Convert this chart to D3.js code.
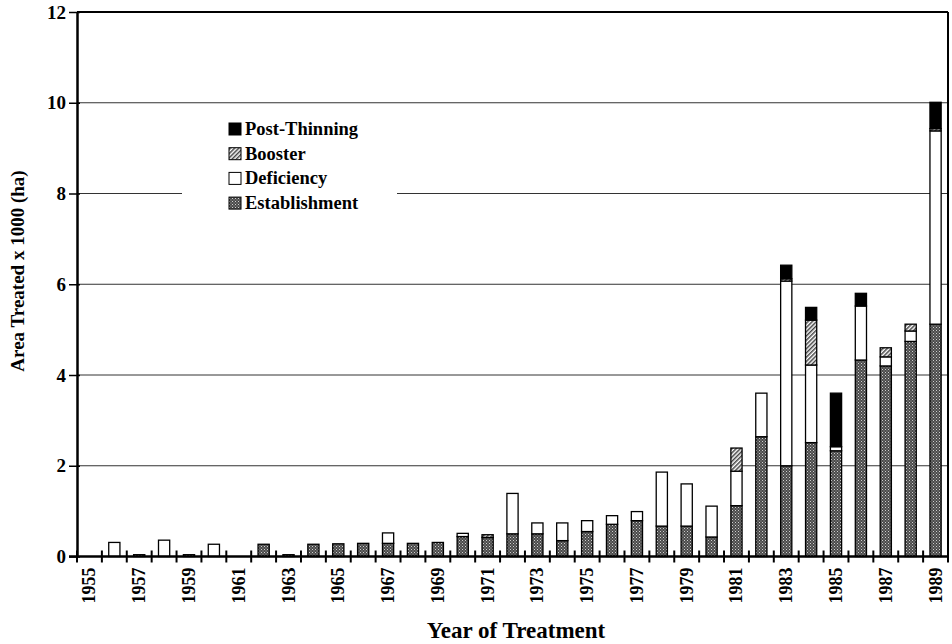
<!DOCTYPE html>
<html>
<head>
<meta charset="utf-8">
<script src="https://cdn.jsdelivr.net/npm/d3@7"></script>
<style>
  body { margin: 0; background: #fff; }
  svg { display: block; font-family: "Liberation Serif", "Times New Roman", serif; font-weight: bold; }
</style>
</head>
<body>
<script>
// years of treatment
var years = [1955, 1956, 1957, 1958, 1959, 1960, 1961, 1962, 1963, 1964,
             1965, 1966, 1967, 1968, 1969, 1970, 1971, 1972, 1973, 1974,
             1975, 1976, 1977, 1978, 1979, 1980, 1981, 1982, 1983, 1984,
             1985, 1986, 1987, 1988, 1989];

// area treated x 1000 ha, per fertilization type
var establishment = [0, 0, 0.04, 0, 0.04, 0, 0, 0.27, 0.04, 0.27,
                     0.28, 0.29, 0.29, 0.29, 0.31, 0.44, 0.42, 0.50, 0.50, 0.35,
                     0.55, 0.71, 0.79, 0.67, 0.67, 0.43, 1.12, 2.64, 2.00, 2.51,
                     2.33, 4.33, 4.20, 4.74, 5.12];
var deficiency = [0, 0.31, 0, 0.36, 0, 0.27, 0, 0, 0, 0,
                  0, 0, 0.23, 0, 0, 0.07, 0, 0.89, 0.24, 0.39,
                  0.24, 0.19, 0.20, 1.19, 0.93, 0.68, 0.76, 0.96, 4.07, 1.71,
                  0.09, 1.19, 0.20, 0.23, 4.26];
var booster = [0, 0, 0, 0, 0, 0, 0, 0, 0, 0,
               0, 0, 0, 0, 0, 0, 0.06, 0, 0, 0,
               0, 0, 0, 0, 0, 0, 0.51, 0, 0.05, 0.99,
               0, 0, 0.20, 0.15, 0.05];
var postThinning = [0, 0, 0, 0, 0, 0, 0, 0, 0, 0,
                    0, 0, 0, 0, 0, 0, 0, 0, 0, 0,
                    0, 0, 0, 0, 0, 0, 0, 0, 0.30, 0.28,
                    1.18, 0.28, 0, 0, 0.58];

var seriesKeys = ["Establishment", "Deficiency", "Booster", "Post-Thinning"];
var yTicks = [0, 2, 4, 6, 8, 10, 12];
var yearLabels = years.filter(function(y) { return y % 2 === 1; });

var width = 952, height = 644;
var plotLeft = 77, plotRight = 948, plotTop = 12, plotBottom = 556.5;

var rows = years.map(function(y, i) {
	return { "year": y,
	         "Establishment": establishment[i],
	         "Deficiency": deficiency[i],
	         "Booster": booster[i],
	         "Post-Thinning": postThinning[i] };
});

var svg = d3.select("body").append("svg")
	.attr("width", width)
	.attr("height", height);

// fill patterns
var defs = svg.append("defs");

var est = defs.append("pattern")
	.attr("id", "pat-est")
	.attr("width", 3).attr("height", 3)
	.attr("patternUnits", "userSpaceOnUse");
est.append("rect").attr("width", 3).attr("height", 3).attr("fill", "#4a4a4a");
est.append("rect").attr("x", 0).attr("y", 0).attr("width", 1).attr("height", 1).attr("fill", "#cfcfcf");
est.append("rect").attr("x", 1.5).attr("y", 1.5).attr("width", 1).attr("height", 1).attr("fill", "#aaaaaa");

var boo = defs.append("pattern")
	.attr("id", "pat-boo")
	.attr("width", 3).attr("height", 3)
	.attr("patternUnits", "userSpaceOnUse")
	.attr("patternTransform", "rotate(45)");
boo.append("rect").attr("width", 3).attr("height", 3).attr("fill", "#ffffff");
boo.append("rect").attr("width", 1.5).attr("height", 3).attr("fill", "#444444");

var fills = {
	"Establishment": "url(#pat-est)",
	"Deficiency": "#ffffff",
	"Booster": "url(#pat-boo)",
	"Post-Thinning": "#000000"
};

var x = d3.scaleBand()
	.domain(years)
	.range([plotLeft, plotRight])
	.paddingInner(0.55)
	.paddingOuter(0.275);

var y = d3.scaleLinear()
	.domain([0, 12])
	.range([plotBottom, plotTop]);

// gridlines
svg.append("g")
	.selectAll("line")
	.data(yTicks.filter(function(t) { return t > 0 && t < 12; }))
	.enter().append("line")
	.attr("x1", plotLeft).attr("x2", plotRight)
	.attr("y1", function(d) { return y(d); })
	.attr("y2", function(d) { return y(d); })
	.attr("stroke", "#333")
	.attr("stroke-width", 1);

// legend background hides part of the grid
var legend = svg.append("g").attr("transform", "translate(229,123)");
legend.append("rect")
	.attr("x", -47).attr("y", -8)
	.attr("width", 215).attr("height", 100)
	.attr("fill", "#fff");

var legendKeys = seriesKeys.slice().reverse();
legendKeys.forEach(function(k, i) {
	legend.append("rect")
		.attr("x", 0).attr("y", i * 24.7)
		.attr("width", 12).attr("height", 12)
		.attr("fill", fills[k])
		.attr("stroke", "#000")
		.attr("stroke-width", 1);
	legend.append("text")
		.attr("x", 16).attr("y", i * 24.7 + 12)
		.attr("font-size", 18.5)
		.text(k);
});

// stacked bars
var stack = d3.stack().keys(seriesKeys)(rows);

svg.append("g")
	.selectAll("g")
	.data(stack)
	.enter().append("g")
	.attr("fill", function(d) { return fills[d.key]; })
	.selectAll("rect")
	.data(function(d) { return d.filter(function(p) { return p[1] - p[0] > 0; }); })
	.enter().append("rect")
	.attr("x", function(d) { return x(d.data.year); })
	.attr("width", x.bandwidth())
	.attr("y", function(d) { return y(d[1]); })
	.attr("height", function(d) { return y(d[0]) - y(d[1]); })
	.attr("stroke", "#000")
	.attr("stroke-width", 1.3);

// frame: top and right
svg.append("line")
	.attr("x1", plotLeft).attr("x2", plotRight)
	.attr("y1", plotTop).attr("y2", plotTop)
	.attr("stroke", "#000").attr("stroke-width", 2);
svg.append("line")
	.attr("x1", plotRight).attr("x2", plotRight)
	.attr("y1", plotTop).attr("y2", plotBottom)
	.attr("stroke", "#000").attr("stroke-width", 2);

// y axis
var yAxis = svg.append("g")
	.attr("transform", "translate(" + plotLeft + ",0)")
	.call(d3.axisLeft(y).tickValues(yTicks).tickSize(7).tickPadding(4).tickSizeOuter(0));
yAxis.select(".domain").attr("stroke-width", 2.5);
yAxis.selectAll(".tick line").attr("stroke-width", 1.5).attr("x2", -8).attr("x1", 3);
yAxis.selectAll(".tick text")
	.attr("font-size", 19)
	.attr("font-family", "Liberation Serif, serif")
	.attr("font-weight", "bold")
	.attr("x", -11)
	.attr("fill", "#000");

// x axis: ticks at band edges, labels on odd years
var edges = d3.range(years.length + 1).map(function(i) { return plotLeft + i * x.step(); });
svg.append("line")
	.attr("x1", plotLeft - 8).attr("x2", plotRight)
	.attr("y1", plotBottom).attr("y2", plotBottom)
	.attr("stroke", "#000").attr("stroke-width", 2.5);
svg.append("g")
	.selectAll("line")
	.data(edges)
	.enter().append("line")
	.attr("x1", function(d) { return d; })
	.attr("x2", function(d) { return d; })
	.attr("y1", plotBottom - 6).attr("y2", plotBottom + 6)
	.attr("stroke", "#000").attr("stroke-width", 2);

svg.append("g")
	.selectAll("text")
	.data(yearLabels)
	.enter().append("text")
	.attr("transform", function(d) {
		return "translate(" + (x(d) + x.bandwidth() / 2 + 6) + "," + (plotBottom + 11) + ") rotate(-90)";
	})
	.attr("text-anchor", "end")
	.attr("font-size", 18)
	.text(function(d) { return d; });

// axis titles
svg.append("text")
	.attr("x", 516).attr("y", 638)
	.attr("text-anchor", "middle")
	.attr("font-size", 23)
	.text("Year of Treatment");

svg.append("text")
	.attr("transform", "translate(24,271) rotate(-90)")
	.attr("text-anchor", "middle")
	.attr("font-size", 19)
	.text("Area Treated x 1000 (ha)");
</script>
</body>
</html>
